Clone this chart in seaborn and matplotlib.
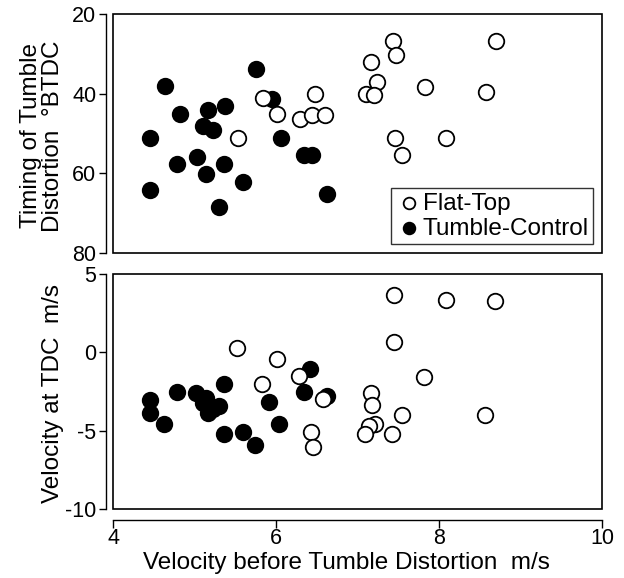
import numpy as np
import pandas as pd
import matplotlib
matplotlib.use("Agg")
import matplotlib.pyplot as plt
import seaborn as sns
from matplotlib.patches import Rectangle

# ---- data ----
flat_x_top = [7.43, 8.70, 7.47, 7.17, 7.24, 7.11, 7.20, 7.83, 8.58, 6.48,
              5.84, 6.01, 6.29, 6.44, 6.60, 5.53, 7.46, 8.09, 7.55]
flat_timing = [26.8, 26.9, 30.3, 32.0, 37.0, 40.2, 40.3, 38.4, 39.7, 40.1,
               41.2, 45.1, 46.3, 45.3, 45.3, 51.1, 51.1, 51.1, 55.5]

ctrl_x_top = [5.75, 4.64, 5.95, 5.37, 5.17, 4.82, 5.11, 5.23, 4.46, 6.06,
              6.34, 6.44, 5.03, 4.79, 5.36, 5.14, 5.60, 4.46, 6.63, 5.30]
ctrl_timing = [33.7, 38.2, 41.3, 43.2, 44.2, 45.1, 48.2, 49.2, 51.1, 51.1,
               55.5, 55.5, 55.9, 57.7, 57.7, 60.2, 62.2, 64.1, 65.3, 68.4]

flat_x_bot = [7.45, 8.09, 8.69, 7.45, 5.52, 6.01, 6.28, 7.81, 5.83, 7.16,
              6.58, 7.18, 7.54, 8.57, 7.22, 7.14, 6.43, 7.09, 7.42, 6.45]
flat_vel = [3.66, 3.31, 3.27, 0.67, 0.30, -0.45, -1.54, -1.56, -2.03, -2.62,
            -2.96, -3.33, -3.98, -3.98, -4.59, -4.70, -5.06, -5.24, -5.24, -6.04]

ctrl_x_bot = [6.42, 5.36, 4.78, 5.02, 6.34, 6.63, 4.46, 5.14, 5.11, 5.30,
              5.16, 5.23, 5.92, 4.46, 4.63, 6.04, 5.36, 5.60, 5.74]
ctrl_vel = [-1.06, -2.03, -2.53, -2.62, -2.51, -2.79, -3.07, -2.90, -3.22, -3.44,
            -3.87, -3.60, -3.18, -3.87, -4.59, -4.59, -5.24, -5.06, -5.89]

x_ticks = [4, 6, 8, 10]
top_ticks = [20, 40, 60, 80]
bot_ticks = [5, 0, -5, -10]

# ---- styling ----
sns.set_theme(style="white")
plt.rcParams['font.family'] = ['Liberation Sans', 'DejaVu Sans']
plt.rcParams['axes.unicode_minus'] = False
plt.rcParams['axes.edgecolor'] = 'black'
plt.rcParams['xtick.color'] = 'black'
plt.rcParams['ytick.color'] = 'black'
plt.rcParams['text.color'] = 'black'
plt.rcParams['axes.labelcolor'] = 'black'

TICK_FS = 15.5
LAB_FS = 17.5
LEG_FS = 17.5

W, H = 624, 578
fig = plt.figure(figsize=(W / 100, H / 100), dpi=100)
fig.patch.set_facecolor('white')

def fx(px):
    return px / W

def fy(py):
    return 1 - py / H

left, right = 113, 602
top1, bot1 = 14, 253
top2, bot2 = 274, 509
ax1 = fig.add_axes([fx(left), fy(bot1), fx(right) - fx(left), fy(top1) - fy(bot1)])
ax2 = fig.add_axes([fx(left), fy(bot2), fx(right) - fx(left), fy(top2) - fy(bot2)])

mk = dict(s=125, linewidth=1.3, edgecolor='black', zorder=3, clip_on=False)

df_ft = pd.DataFrame({'x': flat_x_top, 'y': flat_timing})
df_ct = pd.DataFrame({'x': ctrl_x_top, 'y': ctrl_timing})
df_fb = pd.DataFrame({'x': flat_x_bot, 'y': flat_vel})
df_cb = pd.DataFrame({'x': ctrl_x_bot, 'y': ctrl_vel})

sns.scatterplot(data=df_ct, x='x', y='y', ax=ax1, color='black', label='Tumble-Control', **mk)
sns.scatterplot(data=df_ft, x='x', y='y', ax=ax1, color='white', label='Flat-Top', **mk)
sns.scatterplot(data=df_cb, x='x', y='y', ax=ax2, color='black', **mk)
sns.scatterplot(data=df_fb, x='x', y='y', ax=ax2, color='white', **mk)

lab_x = (64 - left) / (right - left)
for ax in (ax1, ax2):
    ax.set_xlim(4, 10)
    ax.set_xticks(x_ticks)
    for s in ('top', 'right', 'bottom'):
        ax.spines[s].set_visible(False)
    ax.spines['left'].set_position(('outward', 5))
    ax.spines['left'].set_linewidth(1.0)
    ax.add_patch(Rectangle((0, 0), 1, 1, transform=ax.transAxes, fill=False,
                           edgecolor='black', linewidth=1.2, zorder=5, clip_on=False))
    ax.tick_params(axis='y', left=True, direction='out', length=5, width=1.0,
                   labelsize=TICK_FS, pad=2)
    ax.set_xlabel('')

ax1.set_ylim(80, 20)
ax1.set_yticks(top_ticks)
ax1.tick_params(axis='x', bottom=False, labelbottom=False)
ax1.set_ylabel('Timing of Tumble\nDistortion  °BTDC', fontsize=LAB_FS, linespacing=1.0)
ax1.yaxis.set_label_coords(lab_x, 0.49)

ax2.set_ylim(-10, 5)
ax2.set_yticks(bot_ticks)
ax2.spines['bottom'].set_visible(True)
ax2.spines['bottom'].set_position(('outward', 8))
ax2.spines['bottom'].set_linewidth(1.0)
ax2.tick_params(axis='x', bottom=True, direction='out', length=6, width=1.0,
                labelsize=TICK_FS, pad=0)
ax2.set_ylabel('Velocity at TDC  m/s', fontsize=LAB_FS)
ax2.yaxis.set_label_coords(lab_x, 0.49)
ax2.set_xlabel('Velocity before Tumble Distortion  m/s', fontsize=LAB_FS)
ax2.xaxis.set_label_coords((346 - left) / (right - left), (bot2 - 552) / (bot2 - top2))

h, l = ax1.get_legend_handles_labels()
order = [l.index('Flat-Top'), l.index('Tumble-Control')]
leg = ax1.legend([h[i] for i in order], [l[i] for i in order], loc='lower right',
                 fontsize=LEG_FS, frameon=True, fancybox=False, edgecolor='black',
                 handletextpad=0.0, borderpad=0.2, labelspacing=0.12,
                 borderaxespad=0.35, markerscale=0.75, handlelength=1.1)
leg.get_frame().set_linewidth(1.0)
leg.set_zorder(6)

fig.savefig('out.png', dpi=100, facecolor='white')
